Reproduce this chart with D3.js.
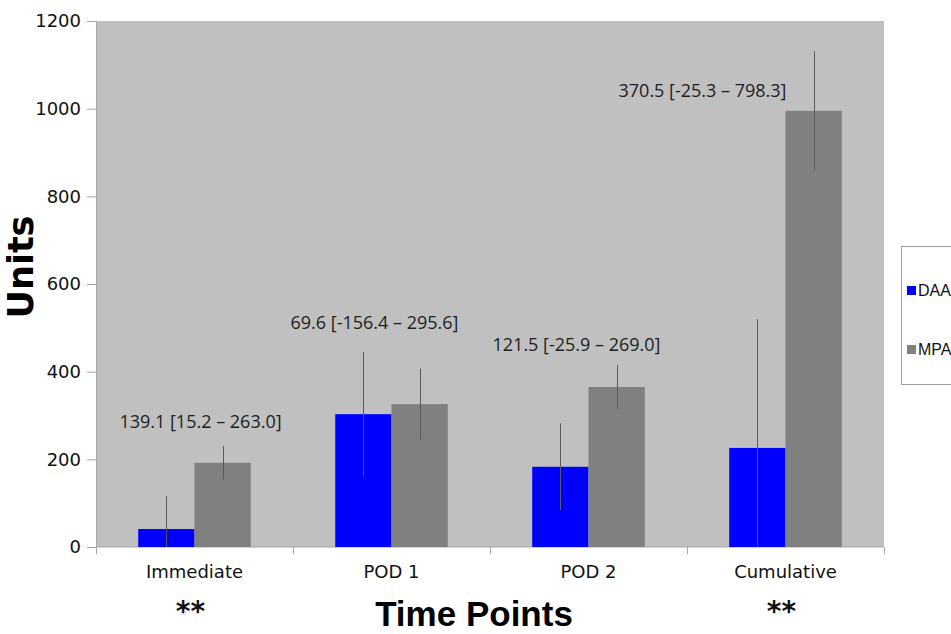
<!DOCTYPE html>
<html>
<head>
<meta charset="utf-8">
<script src="https://cdn.jsdelivr.net/npm/d3@7/dist/d3.min.js"></script>
<style>
  html, body { margin: 0; padding: 0; background: #fff; overflow: hidden; }
  svg { display: block; }
</style>
</head>
<body>
<figure id="chart" style="margin:0"></figure>
<script>
// chart data
const categories = ['Immediate', 'POD 1', 'POD 2', 'Cumulative'];
const seriesNames = ['DAA', 'MPA'];
const daaValues = [41, 303, 183, 226];
const daaErrors = [75, 142, 99, 294];
const mpaValues = [192, 326, 365, 995];
const mpaErrors = [38, 81, 50, 136];
const yTicks = [0, 200, 400, 600, 800, 1000, 1200];
const diffLabels = ['139.1 [15.2 \u2013 263.0]', '69.6 [-156.4 \u2013 295.6]', '121.5 [-25.9 \u2013 269.0]', '370.5 [-25.3 \u2013 798.3]'];
const significant = [true, false, false, true];

// where the difference labels sit (value units / px shift from group centre)
const labelAt = [271, 497, 447, 1027];
const labelShift = [6, -17, -12, -83];

const width = 951;
const height = 634;
const plot = { left: 96, right: 884, top: 21, bottom: 547 };
const colors = ['#0000ff', '#808080'];

const svg = d3.select('figure#chart')
    .append('svg')
    .attr('width', width)
    .attr('height', height);

const x = d3.scaleBand()
    .domain(categories)
    .range([plot.left, plot.right])
    .padding(0);

const xInner = d3.scaleBand()
    .domain(seriesNames)
    .range([0, x.bandwidth()])
    .paddingInner(0)
    .paddingOuter(0.75);

const y = d3.scaleLinear()
    .domain([0, 1200])
    .range([plot.bottom, plot.top]);

const rows = categories.map((c, i) => ({
    cat: c,
    bars: [
        { s: 'DAA', v: daaValues[i], e: daaErrors[i] },
        { s: 'MPA', v: mpaValues[i], e: mpaErrors[i] }
    ]
}));

// plot area
svg.append('rect')
    .attr('x', plot.left)
    .attr('y', plot.top)
    .attr('width', plot.right - plot.left)
    .attr('height', plot.bottom - plot.top)
    .attr('fill', '#c0c0c0');

svg.append('defs').append('clipPath')
    .attr('id', 'plotclip')
    .append('rect')
    .attr('x', plot.left)
    .attr('y', plot.top)
    .attr('width', plot.right - plot.left)
    .attr('height', plot.bottom - plot.top);

// y axis
const yAxis = d3.axisLeft(y).tickValues(yTicks).tickSize(9).tickPadding(6).tickFormat(d3.format('d'));
const gy = svg.append('g')
    .attr('transform', `translate(${plot.left},0)`)
    .call(yAxis);
gy.select('.domain').attr('stroke', '#a6a6a6');
gy.selectAll('.tick line').attr('stroke', '#a6a6a6');
gy.selectAll('.tick text')
    .attr('fill', '#111')
    .style('font-family', '"DejaVu Sans", sans-serif')
    .style('font-size', '18px');

// x axis: ticks at category boundaries
const gx = svg.append('g')
    .attr('transform', `translate(0,${plot.bottom})`);
gx.append('line')
    .attr('x1', plot.left).attr('x2', plot.right)
    .attr('stroke', '#a6a6a6');
gx.selectAll('.bound')
    .data(categories.map(c => x(c)).concat([plot.right]))
    .enter()
    .append('line')
    .attr('class', 'bound')
    .attr('x1', d => d + 0.5).attr('x2', d => d + 0.5)
    .attr('y1', 0).attr('y2', 7)
    .attr('stroke', '#a6a6a6');
gx.selectAll('.catlabel')
    .data(categories)
    .enter()
    .append('text')
    .attr('class', 'catlabel')
    .attr('x', d => x(d) + x.bandwidth() / 2)
    .attr('y', 31)
    .attr('text-anchor', 'middle')
    .attr('fill', '#111')
    .style('font-family', '"DejaVu Sans", sans-serif')
    .style('font-size', '18px')
    .text(d => d);

// bars
const groups = svg.selectAll('.group')
    .data(rows)
    .enter()
    .append('g')
    .attr('class', 'group')
    .attr('transform', d => `translate(${x(d.cat)},0)`);

groups.selectAll('.bar')
    .data(d => d.bars)
    .enter()
    .append('rect')
    .attr('class', 'bar')
    .attr('x', d => xInner(d.s))
    .attr('y', d => y(d.v))
    .attr('width', xInner.bandwidth())
    .attr('height', d => y(0) - y(d.v))
    .attr('fill', (d, i) => colors[i]);

// error bars, clipped to the plot area
const errLayer = svg.append('g').attr('clip-path', 'url(#plotclip)');
rows.forEach(r => {
    r.bars.forEach(b => {
        const cx = Math.round(x(r.cat) + xInner(b.s) + xInner.bandwidth() / 2) + 0.5;
        errLayer.append('line')
            .attr('x1', cx).attr('x2', cx)
            .attr('y1', y(b.v + b.e))
            .attr('y2', y(b.v - b.e))
            .attr('stroke', '#5a5a5a')
            .attr('stroke-width', 1);
    });
});

// difference labels
svg.selectAll('.difflabel')
    .data(diffLabels)
    .enter()
    .append('text')
    .attr('class', 'difflabel')
    .attr('x', (d, i) => x(categories[i]) + x.bandwidth() / 2 + labelShift[i])
    .attr('y', (d, i) => y(labelAt[i]))
    .attr('text-anchor', 'middle')
    .attr('fill', '#1e1e1e')
    .style('font-family', '"Open Sans", sans-serif')
    .style('font-size', '18px')
    .text(d => d);

// significance marks
svg.selectAll('.sig')
    .data(categories.filter((c, i) => significant[i]))
    .enter()
    .append('text')
    .attr('class', 'sig')
    .attr('x', d => x(d) + x.bandwidth() / 2 - 4)
    .attr('y', 621)
    .attr('text-anchor', 'middle')
    .attr('fill', '#111')
    .style('font-family', '"DejaVu Sans", sans-serif')
    .style('font-weight', 'bold')
    .style('font-size', '28px')
    .text('**');

// axis titles
svg.append('text')
    .attr('x', (plot.left + plot.right) / 2 - 16)
    .attr('y', 626)
    .attr('text-anchor', 'middle')
    .attr('fill', '#000')
    .style('font-family', '"Liberation Sans", Arial, sans-serif')
    .style('font-weight', 'bold')
    .style('font-size', '35px')
    .text('Time Points');

svg.append('text')
    .attr('transform', 'translate(33,267) rotate(-90)')
    .attr('text-anchor', 'middle')
    .attr('fill', '#000')
    .style('font-family', '"DejaVu Sans", sans-serif')
    .style('font-weight', 'bold')
    .style('font-size', '35px')
    .text('Units');

// legend (runs past the right edge of the page)
const legend = svg.append('g').attr('transform', 'translate(901,246)');
legend.append('rect')
    .attr('x', 0.5).attr('y', 0.5)
    .attr('width', 120).attr('height', 138)
    .attr('fill', '#fff')
    .attr('stroke', '#a0a0a0');
const items = legend.selectAll('.item')
    .data(seriesNames)
    .enter()
    .append('g')
    .attr('class', 'item')
    .attr('transform', (d, i) => `translate(6,${40 + i * 59})`);
items.append('rect')
    .attr('width', 9).attr('height', 9)
    .attr('fill', (d, i) => colors[i]);
items.append('text')
    .attr('x', 11)
    .attr('y', 10)
    .attr('fill', '#111')
    .style('font-family', '"Liberation Sans", Arial, sans-serif')
    .style('font-size', '16px')
    .text(d => d);
</script>
</body>
</html>
